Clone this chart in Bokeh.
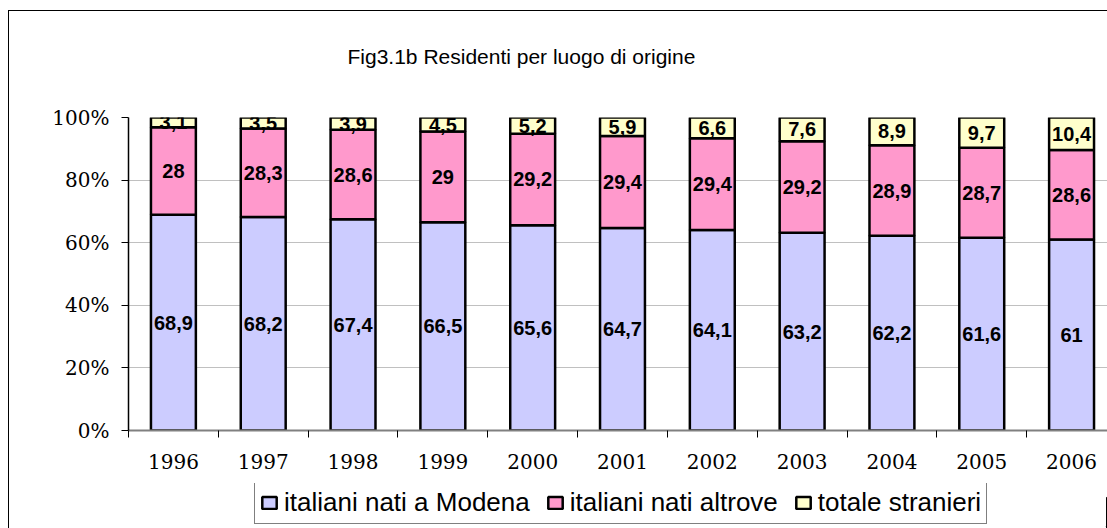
from bokeh.plotting import figure
from bokeh.layouts import column
from bokeh.models import (ColumnDataSource, Range1d, FixedTicker, NumeralTickFormatter,
                          Legend, LegendItem, Label, InlineStyleSheet, Grid)
from bokeh.core.properties import value
from bokeh.embed import file_html
from bokeh.resources import INLINE

years = ["1996", "1997", "1998", "1999", "2000", "2001", "2002", "2003", "2004", "2005", "2006"]
modena = [68.9, 68.2, 67.4, 66.5, 65.6, 64.7, 64.1, 63.2, 62.2, 61.6, 61.0]
altrove = [28.0, 28.3, 28.6, 29.0, 29.2, 29.4, 29.4, 29.2, 28.9, 28.7, 28.6]
stranieri = [3.1, 3.5, 3.9, 4.5, 5.2, 5.9, 6.6, 7.6, 8.9, 9.7, 10.4]
series_names = ["italiani nati a Modena", "italiani nati altrove", "totale stranieri"]
colors = ["#CCCCFF", "#FF99CC", "#FFFFCC"]
title_text = "Fig3.1b  Residenti per luogo di origine"


def fmt(v):
    s = ("%.1f" % v)
    if s.endswith(".0"):
        s = s[:-2]
    return s.replace(".", ",")


xs = [i + 0.5 for i in range(len(years))]
totals = [a + b + c for a, b, c in zip(modena, altrove, stranieri)]
s1 = [a / t for a, t in zip(modena, totals)]
s2 = [b / t for b, t in zip(altrove, totals)]
s3 = [c / t for c, t in zip(stranieri, totals)]

source = ColumnDataSource(dict(x=xs, s1=s1, s2=s2, s3=s3))

W = 1107
H_TITLE, H_MAIN, H_LEG = 102, 381, 45
FRAME_LEFT = 128  # frames of the stacked figures are aligned to this

# ---------- title strip ----------
tf = figure(width=W, height=H_TITLE, output_backend="svg", toolbar_location=None,
            x_range=Range1d(0, 1), y_range=Range1d(0, 1),
            x_axis_location=None, y_axis_location=None, min_border=0)
tf.grid.visible = False
tf.outline_line_color = None
tf.background_fill_color = "white"
tf.border_fill_color = "white"
tf.add_layout(Label(x=347 - FRAME_LEFT, y=46, x_units="screen", y_units="screen", text=title_text,
                    text_align="left", text_baseline="alphabetic",
                    text_font="Liberation Sans", text_font_size="21px", text_color="black"))

# ---------- main chart ----------
p = figure(width=W, height=H_MAIN, output_backend="svg", toolbar_location=None,
           x_range=Range1d(0, 10.90), y_range=Range1d(0, 1),
           min_border_left=FRAME_LEFT, min_border_right=0, min_border_top=15, min_border_bottom=53)
p.background_fill_color = "white"
p.border_fill_color = "white"
p.outline_line_color = None

p.xgrid.visible = False
p.ygrid.ticker = FixedTicker(ticks=[0.2, 0.4, 0.6, 0.8])
p.ygrid.grid_line_color = "#c0c0c0"
p.ygrid.grid_line_width = 1
# top (100%) line of the plot area
p.add_layout(Grid(dimension=1, ticker=FixedTicker(ticks=[1.0]),
                  grid_line_color="#808080", grid_line_width=2.5))

renderers = p.vbar_stack(["s1", "s2", "s3"], x="x", width=0.5, source=source,
                         fill_color=colors, line_color="black", line_width=2.5)

for vals, raw, base in [(s1, modena, [0] * len(xs)),
                        (s2, altrove, s1),
                        (s3, stranieri, [a + b for a, b in zip(s1, s2)])]:
    lsrc = ColumnDataSource(dict(x=xs, y=[b + v / 2 for b, v in zip(base, vals)],
                                 t=[fmt(r) for r in raw]))
    p.text(x="x", y="y", text="t", source=lsrc, text_align="center", text_baseline="middle",
           text_font=value("Liberation Sans"), text_font_style="bold", text_font_size="20px",
           text_color="black")

ya = p.yaxis[0]
ya.ticker = FixedTicker(ticks=[0, 0.2, 0.4, 0.6, 0.8, 1.0], minor_ticks=[])
ya.formatter = NumeralTickFormatter(format="0%")
ya.axis_line_color = "black"
ya.axis_line_width = 1.5
ya.major_tick_out = 7
ya.major_tick_in = 0
ya.major_tick_line_color = "black"
ya.major_label_text_font = "DejaVu Serif"
ya.major_label_text_font_size = "20px"
ya.major_label_text_color = "black"
ya.major_label_standoff = 12

xa = p.xaxis[0]
xa.ticker = FixedTicker(ticks=xs, minor_ticks=list(range(0, len(years))))
xa.major_label_overrides = {x: y for x, y in zip(xs, years)}
xa.axis_line_color = "#808080"
xa.axis_line_width = 2
xa.major_tick_out = 0
xa.major_tick_in = 0
xa.minor_tick_out = 7
xa.minor_tick_in = 0
xa.minor_tick_line_color = "black"
xa.major_label_text_font = "DejaVu Serif"
xa.major_label_text_font_size = "20px"
xa.major_label_text_color = "black"
xa.major_label_standoff = 16

# ---------- legend strip ----------
lf = figure(width=W, height=H_LEG, output_backend="svg", toolbar_location=None,
            x_range=Range1d(-1, 0), y_range=Range1d(0, 1),
            x_axis_location=None, y_axis_location=None, min_border=0)
lf.grid.visible = False
lf.outline_line_color = None
lf.background_fill_color = "white"
lf.border_fill_color = "white"
# legend-only copies of the series (out of this strip's view)
leg_renderers = [lf.vbar(x="x", top=col, width=0.5, source=source, fill_color=c,
                         line_color="black", line_width=2.5)
                 for col, c in zip(["s1", "s2", "s3"], colors)]
items = [LegendItem(label=n, renderers=[r]) for n, r in zip(series_names, leg_renderers)]
legend = Legend(items=items, orientation="horizontal", location=(254 - FRAME_LEFT, 4),
                label_text_font="Liberation Sans", label_text_font_size="26px",
                label_text_color="black", glyph_width=18, glyph_height=15,
                label_standoff=6, spacing=16, padding=5, margin=0,
                border_line_color="black", border_line_width=1,
                background_fill_color="white", background_fill_alpha=1)
lf.add_layout(legend, "center")

border_css = InlineStyleSheet(css="""
:host { position: relative; overflow: hidden; }
:host::after {
  content: "";
  position: absolute;
  left: 8px; top: 10px; right: 0px; bottom: 0px;
  border-left: 1.5px solid black; border-top: 1.5px solid black;
  pointer-events: none;
}
""")

layout = column(tf, p, lf, spacing=0, stylesheets=[border_css])

open("out.html", "w").write(file_html(layout, INLINE))
